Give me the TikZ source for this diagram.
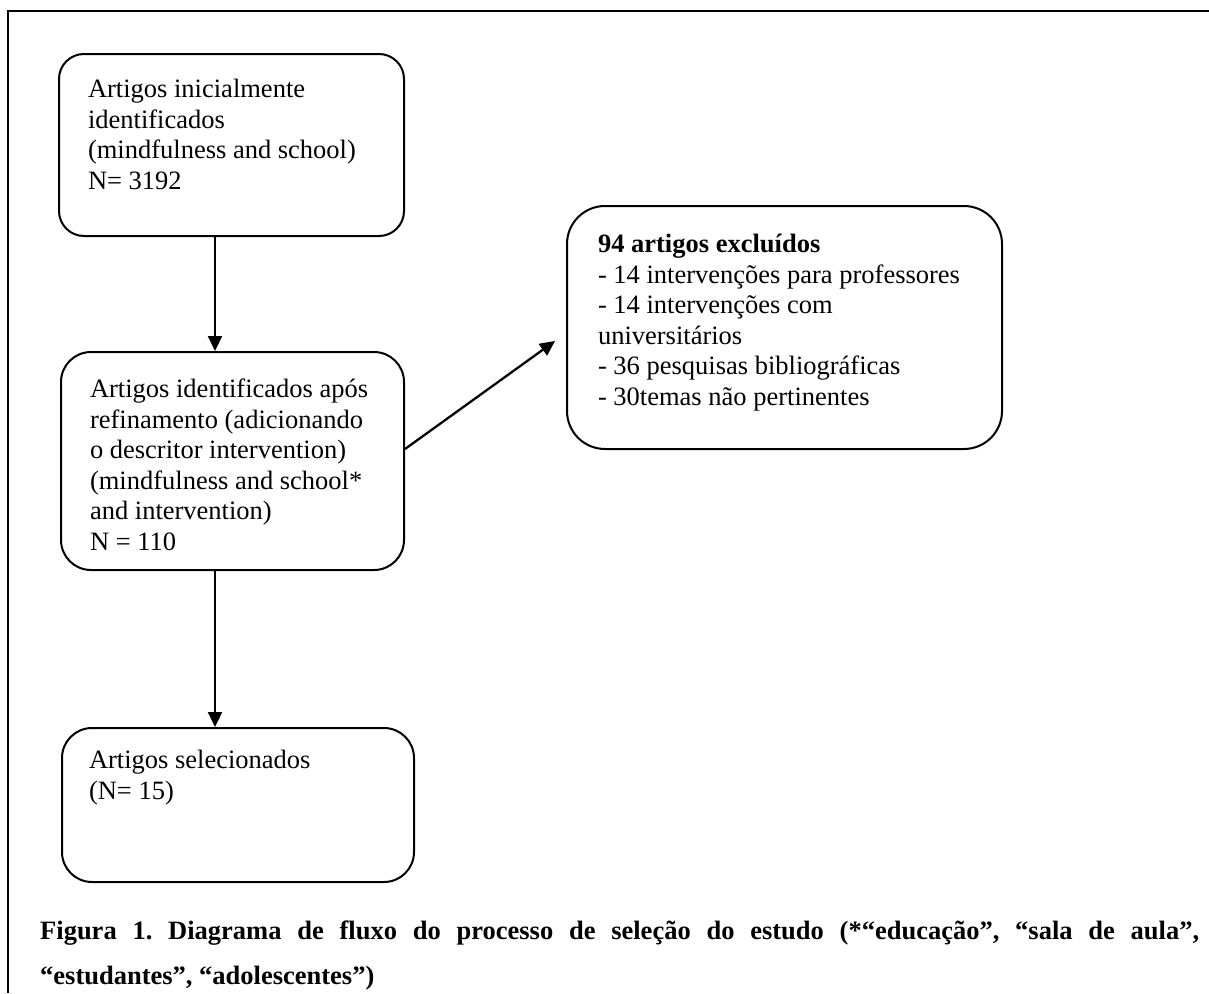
\documentclass[tikz,border=0pt]{standalone}
\usepackage{fontspec}
\setmainfont{Liberation Serif}
\usetikzlibrary{arrows.meta}

\newcommand{\boxtext}[3]{\parbox[t][#2][t]{#1}{\raggedright\strut #3}}

\begin{document}
\begin{tikzpicture}[x=1pt,y=-1pt]
    \tikzstyle{flowbox}=[draw,line width=2pt,anchor=north west,font=\fontsize{26.5}{30.5}\selectfont]
    \tikzstyle{flowarrow}=[line width=2.3pt,-{Triangle[length=15pt,width=14pt]}]
    \useasboundingbox (0,0) rectangle (1209,993);

    % moldura
    \draw[line width=2.2pt] (8,993) -- (8,11) -- (1209,11);

    \node[flowbox,rounded corners=25pt,inner xsep=29pt,inner ysep=22.6pt] (ini) at (58,53)
        {\boxtext{287pt}{136.8pt}{Artigos inicialmente\\identificados\\(mindfulness and school)\\N= 3192}};
    \node[flowbox,rounded corners=30pt,inner xsep=29pt,inner ysep=24.6pt] (ref) at (60,351)
        {\boxtext{285pt}{168.8pt}{Artigos identificados após\\refinamento (adicionando\\o descritor intervention)\\(mindfulness and school*\\and intervention)\\N = 110}};
    \node[flowbox,rounded corners=38pt,inner xsep=31pt,inner ysep=25.6pt] (excl) at (566,205)
        {\boxtext{373pt}{191.8pt}{\textbf{94 artigos excluídos}\\- 14 intervenções para professores\\- 14 intervenções com\\universitários\\- 36 pesquisas bibliográficas\\- 30temas não pertinentes}};
    \node[flowbox,rounded corners=30pt,inner xsep=27pt,inner ysep=19.6pt] (sel) at (61,727)
        {\boxtext{298pt}{114.8pt}{Artigos selecionados\\(N= 15)}};

    \coordinate (col) at (215,0);
    \foreach \from/\to in {ini/ref, ref/sel}
        \draw[flowarrow] (col |- \from.south) -- (col |- \to.north);
    \draw[flowarrow] ([yshift=12pt]ref.east) -- ([xshift=-11pt,yshift=-13.5pt]excl.west);

    \node[anchor=base west,inner sep=0pt,text width=1159pt,align=justify,
          font=\fontsize{26.5}{45.8}\selectfont\bfseries\frenchspacing] (leg) at (40,939)
        {Figura 1. Diagrama de fluxo do processo de seleção do estudo (*“educação”, “sala de aula”,\linebreak
         “estudantes”, “adolescentes”)};
\end{tikzpicture}
\end{document}
